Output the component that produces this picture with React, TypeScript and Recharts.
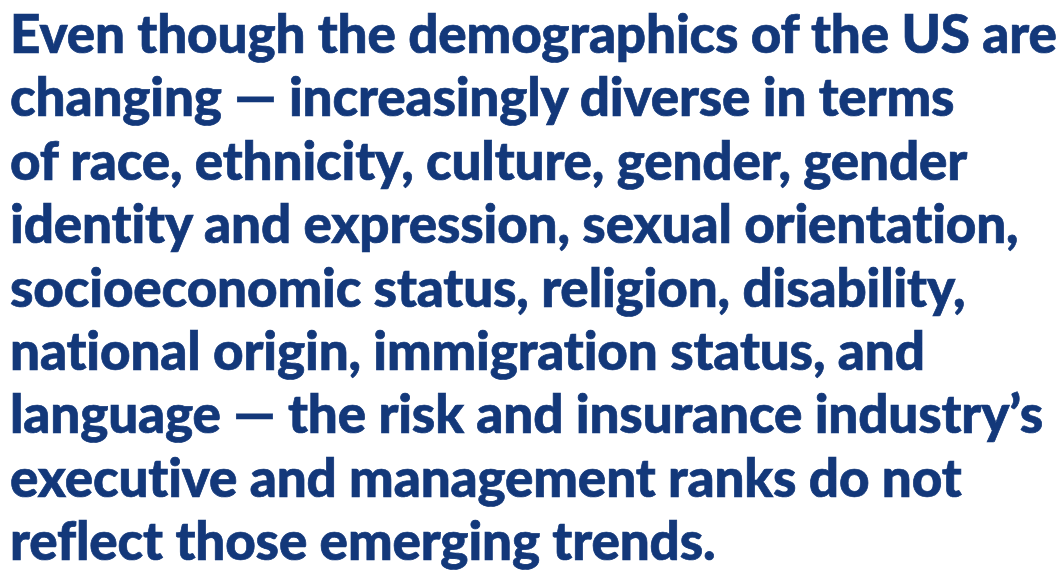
import React from "react";
import { Surface, Text } from "recharts";

const lines = [
  "Even though the demographics of the US are",
  "changing \u2014  increasingly diverse in terms",
  "of race, ethnicity, culture, gender, gender",
  "identity and expression, sexual orientation,",
  "socioeconomic status, religion, disability,",
  "national origin, immigration status, and",
  "language \u2014 the risk and insurance industry\u2019s",
  "executive and management ranks do not",
  "reflect those emerging trends.",
];

const WIDTH = 1061;
const HEIGHT = 571;
const firstBaseline = 53;
const lineGap = 63.4;
const ink = "#13387a";

export default function App() {
  return (
    <div style={{ position: "absolute", left: 0, top: 0, width: WIDTH, height: HEIGHT, background: "#fff" }}>
      <Surface width={WIDTH} height={HEIGHT}>
        {lines.map((line, i) => (
          <Text
            key={i}
            x={10}
            y={firstBaseline + i * lineGap}
            textAnchor="start"
            verticalAnchor="end"
            stroke={ink}
            strokeWidth={0.7}
            style={{
              fontFamily: "Lato",
              fontWeight: 900,
              fontSize: 53,
              fill: ink,
              whiteSpace: "pre",
              letterSpacing: -0.15,
              fontVariantLigatures: "none",
            }}
          >
            {line}
          </Text>
        ))}
      </Surface>
    </div>
  );
}
